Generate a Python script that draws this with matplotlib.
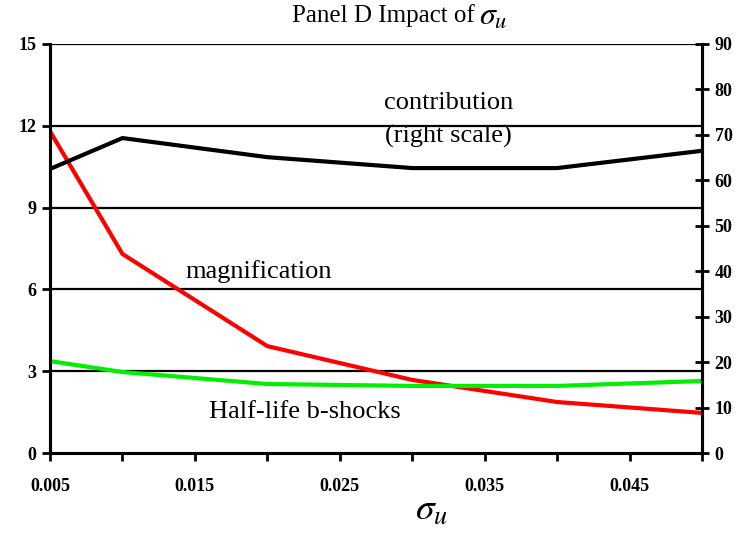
import matplotlib
matplotlib.use("Agg")
import matplotlib.pyplot as plt

plt.rcParams['font.family'] = ['Liberation Serif', 'DejaVu Serif']
plt.rcParams['mathtext.fontset'] = 'stix'

sigma_u = [0.005, 0.01, 0.02, 0.03, 0.04, 0.05]
magnification = [11.8, 7.3, 3.92, 2.68, 1.87, 1.47]
half_life = [3.37, 2.97, 2.53, 2.46, 2.46, 2.64]
contribution = [62.5, 69.3, 65.1, 62.7, 62.7, 66.5]

left_ticks = [0, 3, 6, 9, 12, 15]
right_ticks = [0, 10, 20, 30, 40, 50, 60, 70, 80, 90]
x_ticks = [0.005, 0.01, 0.015, 0.02, 0.025, 0.03, 0.035, 0.04, 0.045, 0.05]
x_labels = ['0.005', '', '0.015', '', '0.025', '', '0.035', '', '0.045', '']

fig = plt.figure(figsize=(7.5, 5.33), dpi=100)
ax = fig.add_axes([50/750, 1-453/533, 652/750, 409/533])
ax2 = ax.twinx()

for g in [3, 6, 9, 12, 15]:
    ax.axhline(g, color='black', lw=1.6, zorder=1)

ax.plot(sigma_u, magnification, color='#ff0000', lw=3.0, zorder=3)
ax.plot(sigma_u, half_life, color='#00ee00', lw=3.0, zorder=3)
ax2.plot(sigma_u, contribution, color='black', lw=3.0, zorder=3)

ax.set_xlim(0.005, 0.05)
ax.set_ylim(0, 15)
ax2.set_ylim(0, 90)

ax.set_xticks(x_ticks)
ax.set_xticklabels(x_labels, fontweight='bold', fontsize=13)
ax.set_yticks(left_ticks)
ax.set_yticklabels([str(t) for t in left_ticks], fontweight='bold', fontsize=13)
ax2.set_yticks(right_ticks)
ax2.set_yticklabels([str(t) for t in right_ticks], fontweight='bold', fontsize=13)

ax.tick_params(axis='x', direction='out', length=6, width=2, pad=12)
ax.tick_params(axis='y', direction='out', length=6, width=2, pad=4)
ax2.tick_params(axis='y', direction='inout', length=10, width=2, pad=4)

for a in (ax, ax2):
    a.spines['top'].set_visible(False)
    for s in ['left', 'right', 'bottom']:
        a.spines[s].set_linewidth(2.2)

fig.text(475/750, 1-16/533, 'Panel D Impact of', ha='right', va='center', fontsize=18)
fig.text(479/750, 1-17/533, r'$\sigma_u$', ha='left', va='center', fontsize=23)
fig.text(432/750, 1-511/533, r'$\sigma_u$', ha='center', va='center', fontsize=27)

ax.text(0.0325, 12.85, 'contribution', ha='center', va='center', fontsize=19)
ax.text(0.0325, 11.6, '(right scale)', ha='center', va='center', fontsize=19)
ax.text(0.0194, 6.65, 'magnification', ha='center', va='center', fontsize=19)
ax.text(0.0226, 1.5, 'Half-life b-shocks', ha='center', va='center', fontsize=19)

fig.savefig('out.png', dpi=100)
